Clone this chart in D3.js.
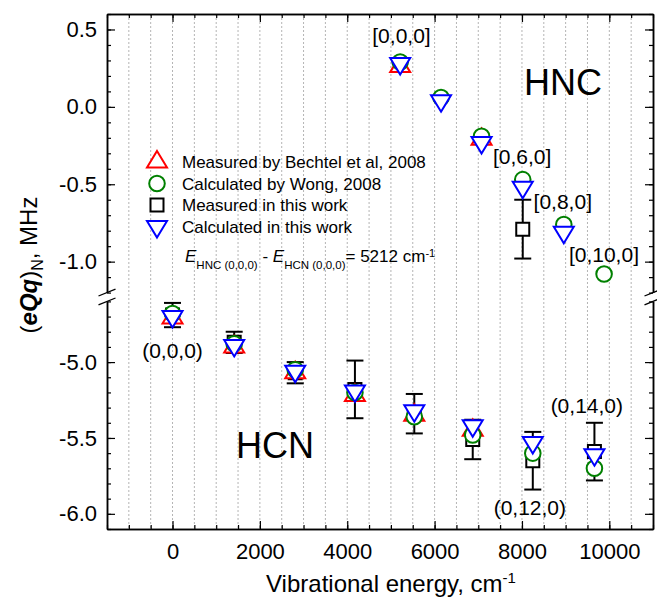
<!DOCTYPE html>
<html>
<head>
<meta charset="utf-8">
<script src="https://cdn.jsdelivr.net/npm/d3@7"></script>
<style>
    body { margin: 0; background: #fff; }
    svg text { font-family: "Liberation Sans", Arial, sans-serif; fill: #000; }
</style>
</head>
<body>
<div id="graph"></div>
<script>
// HNC branch (upper part of the broken axis)
var hncEnergy = [5212, 6147, 7075, 8018, 8958, 9880];
var hncBechtel = [0.26, null, -0.21, null, null, null];
var hncWong = [0.29, 0.06, -0.19, -0.47, -0.76, -1.08];
var hncMeasured = [null, null, null, -0.79, null, null];
var hncMeasuredErr = [null, null, null, 0.19, null, null];
var hncCalc = [0.28, 0.04, -0.23, -0.52, -0.81, null];

// HCN branch (lower part)
var hcnEnergy = [0, 1412, 2809, 4176, 5535, 6873, 8248, 9659];
var hcnBechtel = [-4.71, -4.90, -5.07, -5.22, -5.35, -5.45, null, null];
var hcnWong = [-4.68, -4.88, -5.05, -5.20, -5.36, -5.48, -5.60, -5.70];
var hcnMeasured = [-4.69, -4.87, -5.07, -5.18, -5.34, -5.51, -5.65, -5.59];
var hcnMeasuredErr = [0.08, 0.07, 0.07, 0.19, 0.13, 0.13, 0.19, 0.19];
var hcnCalc = [-4.70, -4.89, -5.06, -5.19, -5.32, -5.42, -5.53, -5.61];

// state labels (text, energy, value of baseline)
var hncLabels = ["[0,0,0]", "[0,6,0]", "[0,8,0]", "[0,10,0]"];
var hncLabelE = [5242, 8003, 8935, 9877];
var hncLabelV = [0.41, -0.37, -0.66, -1.00];
var hcnLabels = ["(0,0,0)", "(0,12,0)", "(0,14,0)"];
var hcnLabelE = [0, 8181, 9485];
var hcnLabelV = [-4.975, -6.005, -5.335];

var legendNames = ["Measured by Bechtel et al, 2008", "Calculated by Wong, 2008",
    "Measured in this work", "Calculated in this work"];

var xTicks = [0, 2000, 4000, 6000, 8000, 10000];
var yTopTicks = [-1.0, -0.5, 0.0, 0.5];
var yBotTicks = [-6.0, -5.5, -5.0];

var svgWidth = 657;
var svgHeight = 601;
var plotLeft = 107, plotRight = 653, plotTop = 14, plotBottom = 529;
var breakTop = 292.6, breakBot = 301.4;

var xScale = d3.scaleLinear().domain([-1500, 11000]).range([plotLeft, plotRight]);
var yTop = d3.scaleLinear().domain([-1.2, 0.6]).range([breakTop, plotTop]);
var yBot = d3.scaleLinear().domain([-6.1, -4.6]).range([plotBottom, breakBot]);

var red = "#ff0000", green = "#008000", blue = "#0000ff";

// symbol shapes (centroid at origin)
var triW = 20, triH = 16.5;
var upTriangle = {
    draw: function (ctx) {
        ctx.moveTo(0, -2 * triH / 3);
        ctx.lineTo(triW / 2, triH / 3);
        ctx.lineTo(-triW / 2, triH / 3);
        ctx.closePath();
    }
};
var downTriangle = {
    draw: function (ctx) {
        ctx.moveTo(0, 2 * triH / 3);
        ctx.lineTo(triW / 2, -triH / 3);
        ctx.lineTo(-triW / 2, -triH / 3);
        ctx.closePath();
    }
};
var circleShape = {
    draw: function (ctx) {
        ctx.moveTo(7.8, 0);
        ctx.arc(0, 0, 7.8, 0, 2 * Math.PI);
    }
};
var squareShape = {
    draw: function (ctx) {
        ctx.rect(-6.5, -6.5, 13, 13);
    }
};

function rows(energy, values, err) {
    return energy.map(function (e, i) {
        return { e: e, v: values[i], err: err ? err[i] : null };
    }).filter(function (d) { return d.v != null; });
}

var svg = d3.select("#graph").append("svg")
    .attr("width", svgWidth)
    .attr("height", svgHeight);

// dotted vertical grid
svg.append("g").selectAll("line")
    .data(d3.range(-2, 22).map(function (d) { return d * 500; }))
    .enter().append("line")
    .attr("x1", function (d) { return xScale(d); })
    .attr("x2", function (d) { return xScale(d); })
    .attr("y1", plotTop)
    .attr("y2", plotBottom)
    .attr("stroke", "#b4b4b4")
    .attr("stroke-width", 1)
    .attr("stroke-dasharray", "2,2");

function fmtY(d) { return d.toFixed(1); }
var xMinor = d3.range(-3, 23).map(function (d) { return d * 500; });

// x axes (bottom + mirrored top)
svg.append("g")
    .attr("transform", "translate(0," + plotBottom + ")")
    .call(d3.axisBottom(xScale).tickValues(xMinor).tickSize(-4).tickSizeOuter(0).tickFormat(""));
svg.append("g")
    .attr("class", "xlab")
    .attr("transform", "translate(0," + plotBottom + ")")
    .call(d3.axisBottom(xScale).tickValues(xTicks).tickSize(-8).tickSizeOuter(0).tickPadding(14)
        .tickFormat(d3.format("d")));
svg.append("g")
    .attr("transform", "translate(0," + plotTop + ")")
    .call(d3.axisTop(xScale).tickValues(xMinor).tickSize(-4).tickSizeOuter(0).tickFormat(""));
svg.append("g")
    .attr("transform", "translate(0," + plotTop + ")")
    .call(d3.axisTop(xScale).tickValues(xTicks).tickSize(-8).tickSizeOuter(0).tickFormat(""));

// y axes, broken into two segments, left and right
function yAxes(scale, major, minor) {
    svg.append("g").attr("transform", "translate(" + plotLeft + ",0)")
        .call(d3.axisLeft(scale).tickValues(minor).tickSize(-4).tickSizeOuter(0).tickFormat(""));
    svg.append("g").attr("class", "ylab").attr("transform", "translate(" + plotLeft + ",0)")
        .call(d3.axisLeft(scale).tickValues(major).tickSize(-8).tickSizeOuter(0).tickPadding(10).tickFormat(fmtY));
    svg.append("g").attr("transform", "translate(" + plotRight + ",0)")
        .call(d3.axisRight(scale).tickValues(minor).tickSize(-4).tickSizeOuter(0).tickFormat(""));
    svg.append("g").attr("transform", "translate(" + plotRight + ",0)")
        .call(d3.axisRight(scale).tickValues(major).tickSize(-8).tickSizeOuter(0).tickFormat(""));
}
yAxes(yTop, yTopTicks, d3.range(-12, 7).map(function (d) { return d / 10; }));
yAxes(yBot, yBotTicks, d3.range(-61, -45).map(function (d) { return d / 10; }));

svg.selectAll(".domain").attr("stroke", "#000").attr("stroke-width", 1.5);
svg.selectAll(".tick line").attr("stroke", "#000").attr("stroke-width", 1.2);
svg.selectAll(".xlab text, .ylab text")
    .attr("font-size", "22px")
    .attr("font-family", "Liberation Sans, Arial, sans-serif");

// break marks
[plotLeft, plotRight].forEach(function (x) {
    [breakTop, breakBot].forEach(function (y) {
        svg.append("line")
            .attr("x1", x - 8.5).attr("y1", y + 3.4)
            .attr("x2", x + 8.5).attr("y2", y - 3.4)
            .attr("stroke", "#000").attr("stroke-width", 1.3);
    });
});

// data
function drawSeries(g, scale, data, shape, color) {
    g.selectAll(null)
        .data(data)
        .enter().append("path")
        .attr("d", d3.symbol().type(shape))
        .attr("transform", function (d) { return "translate(" + xScale(d.e) + "," + scale(d.v) + ")"; })
        .attr("fill", "#fff")
        .attr("stroke", color)
        .attr("stroke-width", 2);
}

function drawErrors(g, scale, data) {
    var eb = g.selectAll(null).data(data).enter().append("g")
        .attr("stroke", "#000").attr("stroke-width", 2);
    eb.append("line")
        .attr("x1", function (d) { return xScale(d.e); })
        .attr("x2", function (d) { return xScale(d.e); })
        .attr("y1", function (d) { return scale(d.v + d.err); })
        .attr("y2", function (d) { return scale(d.v - d.err); });
    [1, -1].forEach(function (s) {
        eb.append("line")
            .attr("x1", function (d) { return xScale(d.e) - 8.5; })
            .attr("x2", function (d) { return xScale(d.e) + 8.5; })
            .attr("y1", function (d) { return scale(d.v + s * d.err); })
            .attr("y2", function (d) { return scale(d.v + s * d.err); });
    });
}

function drawBranch(scale, energy, bechtel, wong, measured, err, calc) {
    var g = svg.append("g");
    var meas = rows(energy, measured, err);
    drawErrors(g, scale, meas);
    drawSeries(g, scale, meas, squareShape, "#000");
    drawSeries(g, scale, rows(energy, bechtel), upTriangle, red);
    drawSeries(g, scale, rows(energy, wong), circleShape, green);
    drawSeries(g, scale, rows(energy, calc), downTriangle, blue);
}

drawBranch(yTop, hncEnergy, hncBechtel, hncWong, hncMeasured, hncMeasuredErr, hncCalc);
drawBranch(yBot, hcnEnergy, hcnBechtel, hcnWong, hcnMeasured, hcnMeasuredErr, hcnCalc);

// state labels
function drawLabels(scale, texts, es, vs) {
    svg.append("g").selectAll("text")
        .data(texts)
        .enter().append("text")
        .text(function (d) { return d; })
        .attr("x", function (d, i) { return xScale(es[i]); })
        .attr("y", function (d, i) { return scale(vs[i]); })
        .attr("text-anchor", "middle")
        .attr("font-size", "21px");
}
drawLabels(yTop, hncLabels, hncLabelE, hncLabelV);
drawLabels(yBot, hcnLabels, hcnLabelE, hcnLabelV);

svg.append("text").text("HNC").attr("x", 524).attr("y", 95).attr("font-size", "36px");
svg.append("text").text("HCN").attr("x", 236).attr("y", 458).attr("font-size", "36px");

// legend
var legendShapes = [[upTriangle, red], [circleShape, green], [squareShape, "#000"], [downTriangle, blue]];
var legend = svg.append("g");
legendNames.forEach(function (name, i) {
    var cy = 162 + i * 21.5;
    legend.append("path")
        .attr("d", d3.symbol().type(legendShapes[i][0]))
        .attr("transform", "translate(157," + cy + ")")
        .attr("fill", "#fff")
        .attr("stroke", legendShapes[i][1])
        .attr("stroke-width", 2);
    legend.append("text")
        .text(name)
        .attr("x", 182)
        .attr("y", cy + 6)
        .attr("font-size", "17px");
});

// energy offset note
var note = svg.append("text").attr("x", 185).attr("y", 261.5).attr("font-size", "17px");
note.append("tspan").text("E").attr("font-style", "italic");
note.append("tspan").text("HNC (0,0,0)").attr("font-size", "11.5px").attr("dy", 7.5);
note.append("tspan").text(" - ").attr("dy", -7.5);
note.append("tspan").text("E").attr("font-style", "italic");
note.append("tspan").text("HCN (0,0,0)").attr("font-size", "11.5px").attr("dy", 7.5);
note.append("tspan").text("= 5212 cm").attr("dy", -7.5);
note.append("tspan").text("-1").attr("font-size", "11px").attr("dy", -5);

// axis titles
var xt = svg.append("text")
    .attr("x", 391).attr("y", 592)
    .attr("text-anchor", "middle")
    .attr("font-size", "24px");
xt.append("tspan").text("Vibrational energy, cm");
xt.append("tspan").text("-1").attr("font-size", "15px").attr("dy", -9);

var yt = svg.append("text")
    .attr("transform", "translate(37,265) rotate(-90)")
    .attr("text-anchor", "middle")
    .attr("font-size", "24px");
yt.append("tspan").text("(");
yt.append("tspan").text("eQq").attr("font-style", "italic").attr("font-weight", "bold");
yt.append("tspan").text(")");
yt.append("tspan").text("N").attr("font-size", "16px").attr("dy", 6);
yt.append("tspan").text(", MHz").attr("dy", -6);
</script>
</body>
</html>
